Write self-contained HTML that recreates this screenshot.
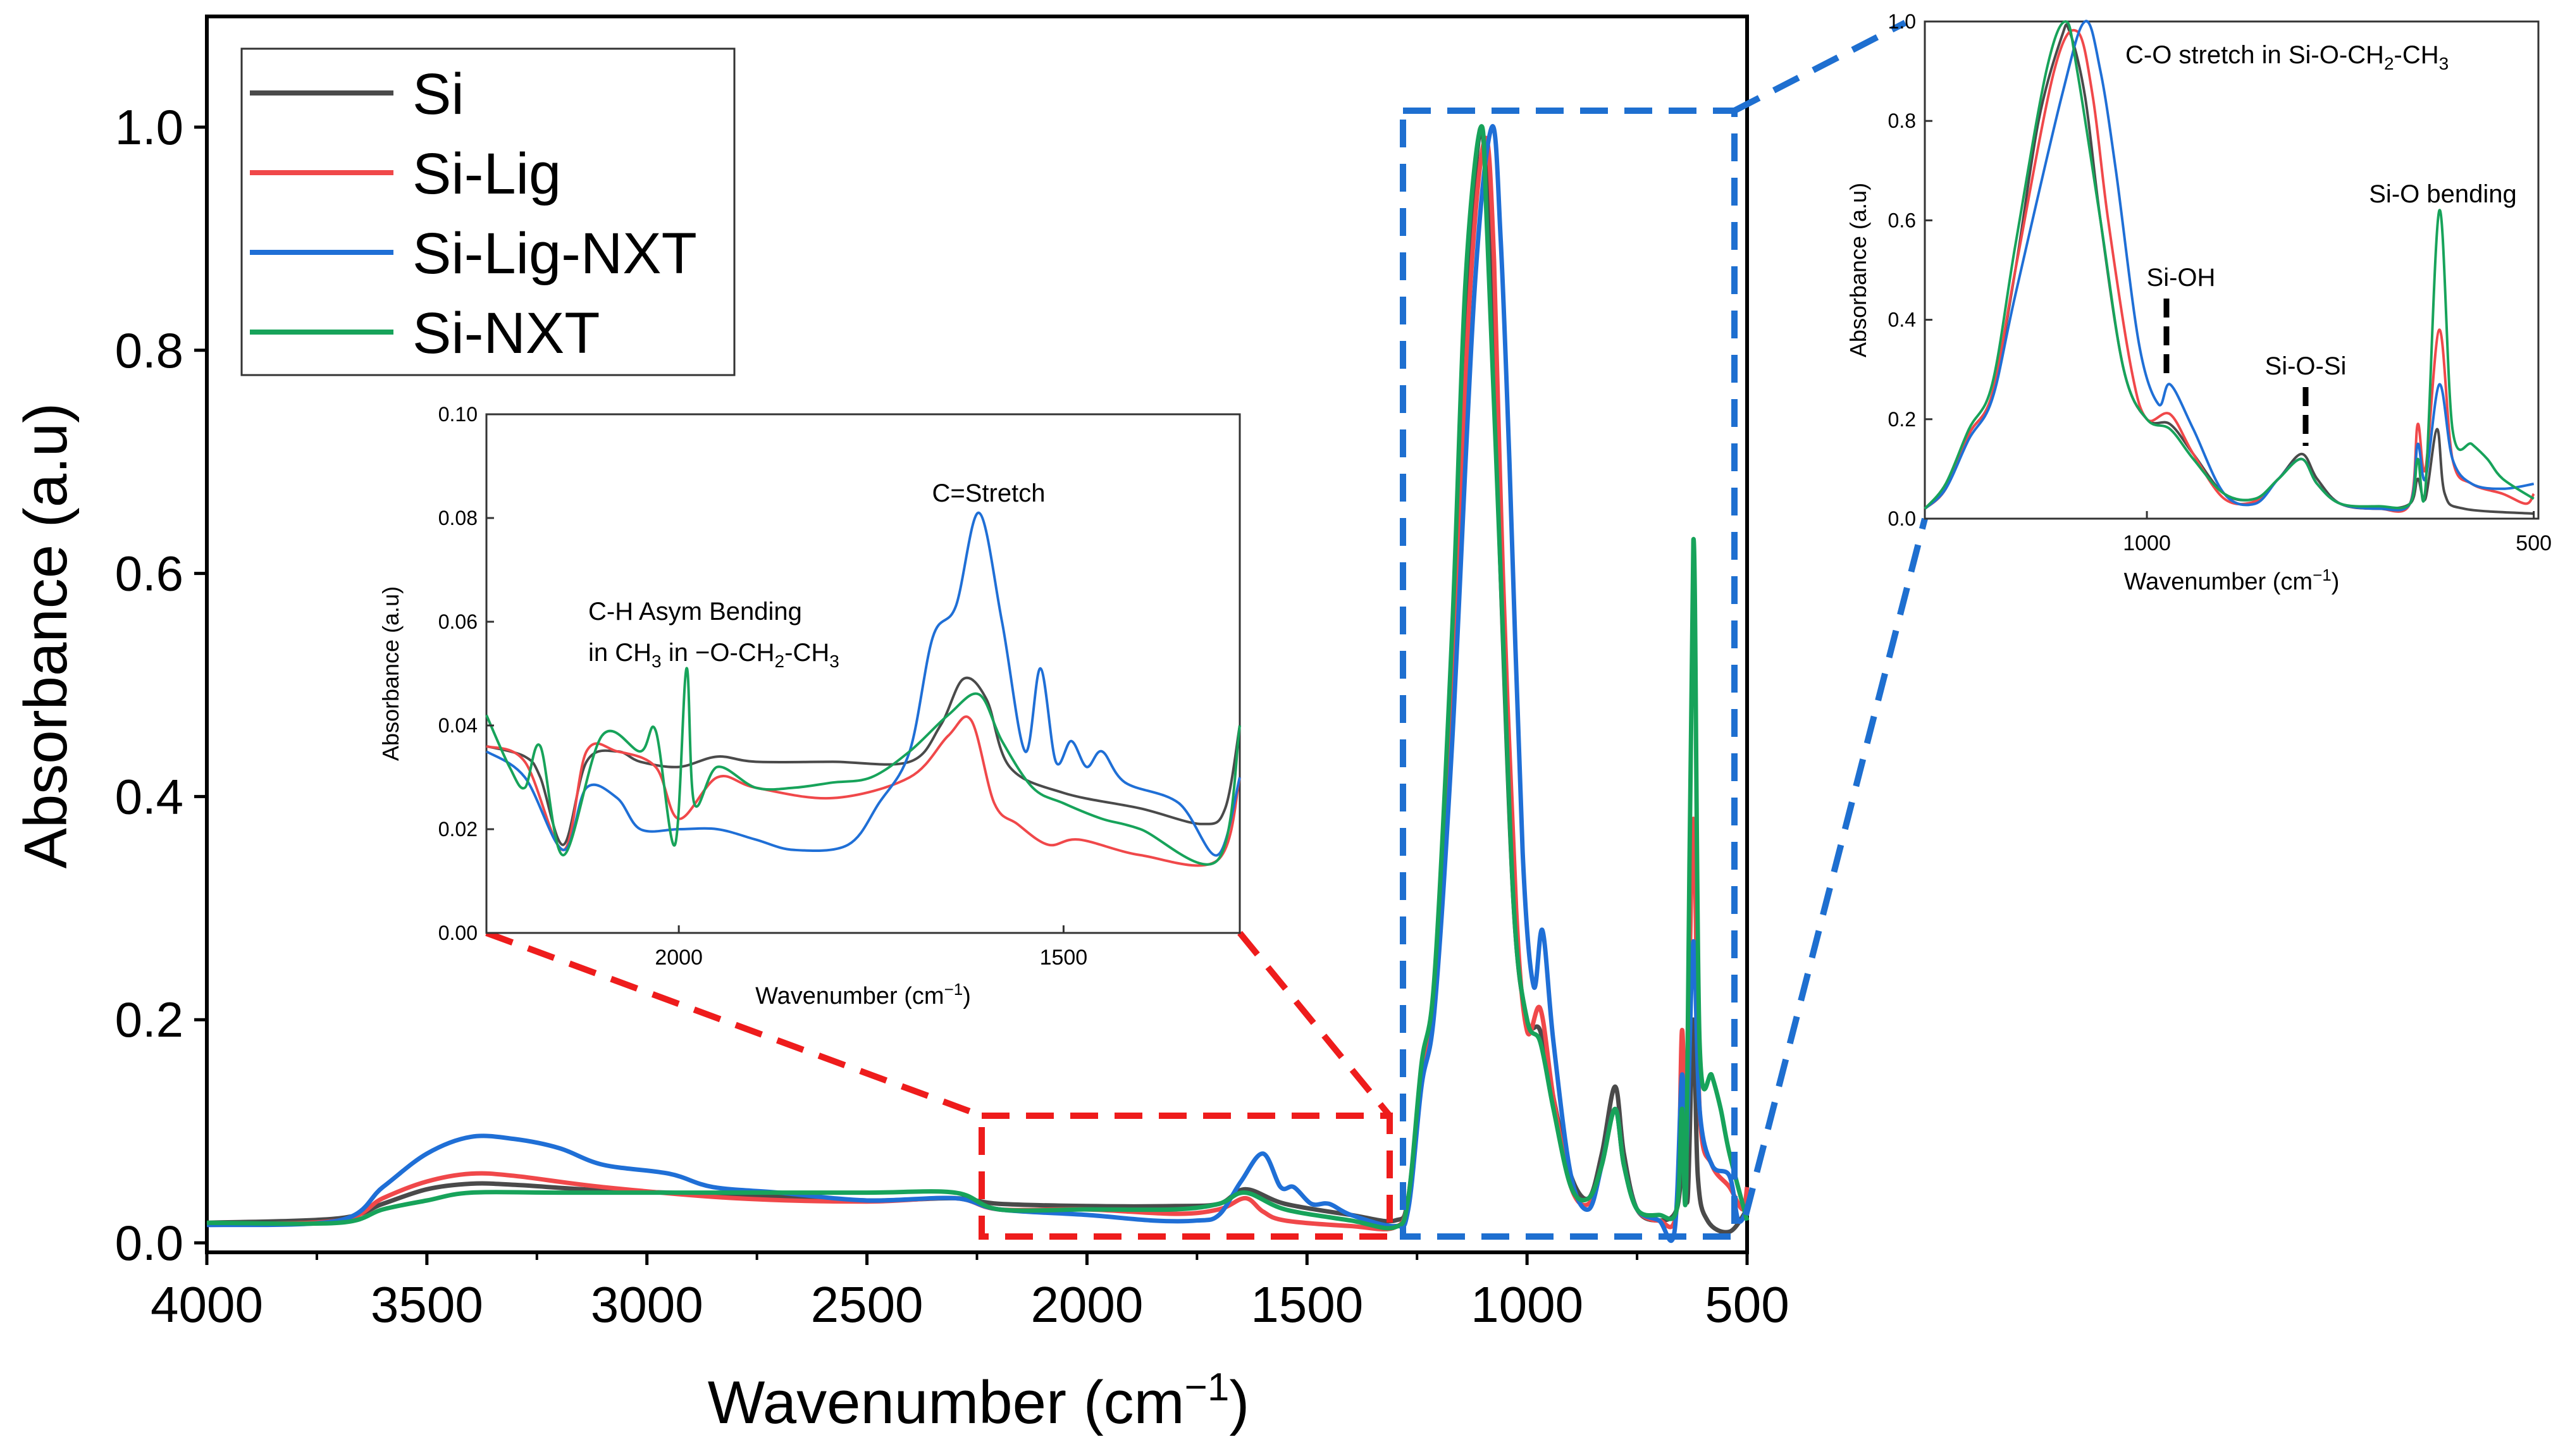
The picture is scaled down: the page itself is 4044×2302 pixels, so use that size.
<!DOCTYPE html>
<html><head><meta charset="utf-8"><style>
html,body{margin:0;padding:0;background:#fff;}
svg{display:block;font-family:"Liberation Sans",sans-serif;}
</style></head><body>
<svg id="chart" width="4044" height="2302" viewBox="0 0 4044 2302" xmlns="http://www.w3.org/2000/svg"></svg>
<script>
// ---------- DATA ----------
const seriesNames = ["Si","Si-Lig","Si-Lig-NXT","Si-NXT"];
const seriesColors = ["#4a4a4a","#f0484a","#1f6fd6","#17a35a"];
const xTicksMain = [4000,3500,3000,2500,2000,1500,1000,500];
const yTicksMain = [0.0,0.2,0.4,0.6,0.8,1.0];
const mainSi = [[4000,0.018],[3700,0.022],[3600,0.035],[3500,0.048],[3400,0.053],[3300,0.052],[3100,0.047],[2800,0.043],[2500,0.038],[2300,0.040],[2200,0.035],[2000,0.033],[1800,0.033],[1700,0.035],[1640,0.048],[1550,0.035],[1400,0.025],[1300,0.02],[1270,0.04],[1240,0.15],[1210,0.22],[1170,0.5],[1140,0.82],[1115,0.97],[1100,0.99],[1080,0.86],[1060,0.6],[1030,0.3],[1000,0.2],[970,0.19],[940,0.13],[900,0.06],[860,0.04],[830,0.08],[800,0.14],[780,0.08],[750,0.03],[700,0.02],[660,0.03],[645,0.08],[635,0.04],[622,0.2],[612,0.06],[590,0.02],[540,0.01],[500,0.03]];
const mainSiLig = [[4000,0.017],[3700,0.02],[3600,0.04],[3500,0.055],[3400,0.062],[3300,0.06],[3100,0.05],[2800,0.04],[2500,0.037],[2300,0.04],[2200,0.03],[2000,0.03],[1800,0.026],[1700,0.03],[1640,0.04],[1600,0.028],[1550,0.02],[1400,0.015],[1300,0.014],[1270,0.04],[1240,0.15],[1210,0.22],[1170,0.5],[1130,0.85],[1095,0.99],[1075,0.88],[1055,0.6],[1025,0.3],[1000,0.19],[970,0.21],[940,0.13],[900,0.05],[860,0.035],[830,0.07],[800,0.12],[780,0.07],[750,0.03],[700,0.02],[660,0.03],[648,0.19],[638,0.1],[622,0.38],[608,0.12],[580,0.07],[540,0.05],[510,0.03],[500,0.05]];
const mainSiLigNxt = [[4000,0.016],[3700,0.02],[3600,0.05],[3500,0.08],[3400,0.095],[3300,0.093],[3200,0.085],[3100,0.07],[2950,0.062],[2850,0.05],[2700,0.045],[2500,0.038],[2300,0.04],[2200,0.03],[2000,0.025],[1850,0.02],[1750,0.02],[1700,0.025],[1650,0.055],[1600,0.08],[1560,0.05],[1530,0.05],[1490,0.035],[1450,0.035],[1400,0.025],[1300,0.015],[1270,0.03],[1240,0.14],[1210,0.21],[1170,0.45],[1120,0.85],[1080,1.0],[1060,0.9],[1040,0.7],[1010,0.35],[985,0.23],[965,0.28],[940,0.18],[900,0.06],[860,0.03],[830,0.07],[800,0.12],[780,0.07],[750,0.03],[700,0.02],[665,0.01],[648,0.15],[638,0.08],[622,0.27],[608,0.12],[580,0.07],[540,0.06],[520,0.02],[500,0.03]];
const mainSiNxt = [[4000,0.018],[3700,0.018],[3600,0.03],[3500,0.038],[3400,0.045],[3200,0.045],[2800,0.045],[2500,0.045],[2300,0.045],[2200,0.03],[2000,0.03],[1800,0.03],[1700,0.035],[1640,0.045],[1550,0.03],[1400,0.02],[1300,0.014],[1270,0.04],[1240,0.16],[1210,0.24],[1170,0.55],[1140,0.86],[1105,1.0],[1090,0.9],[1060,0.6],[1030,0.3],[1000,0.2],[970,0.18],[940,0.12],[900,0.05],[860,0.04],[830,0.07],[800,0.12],[780,0.07],[750,0.03],[700,0.025],[660,0.03],[648,0.12],[638,0.06],[622,0.63],[608,0.18],[580,0.15],[560,0.12],[540,0.08],[500,0.02]];
const mainSeries = [mainSi, mainSiLig, mainSiLigNxt, mainSiNxt];

const inset1XTicks = [2000,1500];
const inset1YTicks = [0.00,0.02,0.04,0.06,0.08,0.10];
const in1Si = [[2250,0.036],[2200,0.034],[2180,0.03],[2150,0.017],[2120,0.033],[2080,0.035],[2050,0.033],[2000,0.032],[1950,0.034],[1900,0.033],[1800,0.033],[1700,0.033],[1660,0.04],[1630,0.049],[1600,0.045],[1570,0.032],[1500,0.027],[1400,0.024],[1320,0.021],[1290,0.024],[1271,0.04]];
const in1SiLig = [[2250,0.036],[2200,0.033],[2150,0.016],[2120,0.035],[2080,0.035],[2030,0.032],[2000,0.022],[1950,0.03],[1900,0.028],[1800,0.026],[1700,0.03],[1650,0.038],[1620,0.041],[1590,0.025],[1560,0.021],[1520,0.017],[1480,0.018],[1400,0.015],[1300,0.014],[1271,0.03]];
const in1SiLigNxt = [[2250,0.035],[2200,0.03],[2150,0.016],[2120,0.028],[2080,0.026],[2050,0.02],[2000,0.02],[1950,0.02],[1900,0.018],[1850,0.016],[1780,0.017],[1740,0.025],[1700,0.035],[1670,0.057],[1640,0.063],[1610,0.081],[1580,0.06],[1550,0.035],[1530,0.051],[1510,0.033],[1490,0.037],[1470,0.032],[1450,0.035],[1420,0.029],[1350,0.025],[1300,0.015],[1271,0.03]];
const in1SiNxt = [[2250,0.042],[2220,0.032],[2200,0.028],[2180,0.036],[2150,0.015],[2100,0.038],[2050,0.035],[2030,0.039],[2005,0.017],[1990,0.051],[1980,0.025],[1950,0.032],[1900,0.028],[1850,0.028],[1800,0.029],[1750,0.03],[1700,0.035],[1650,0.042],[1610,0.046],[1580,0.037],[1540,0.028],[1500,0.025],[1450,0.022],[1400,0.02],[1300,0.014],[1271,0.04]];
const inset1Series = [in1Si, in1SiLig, in1SiLigNxt, in1SiNxt];

const inset2XTicks = [1000,500];
const inset2YTicks = [0.0,0.2,0.4,0.6,0.8,1.0];
const in2Si = [[1287,0.02],[1260,0.06],[1230,0.17],[1200,0.25],[1170,0.5],[1140,0.8],[1110,0.97],[1100,0.98],[1080,0.85],[1060,0.6],[1030,0.3],[1000,0.2],[970,0.19],[940,0.13],[900,0.05],[860,0.04],[830,0.08],[800,0.13],[780,0.08],[750,0.03],[700,0.02],[660,0.03],[650,0.08],[640,0.04],[625,0.18],[615,0.05],[590,0.02],[500,0.01]];
const in2SiLig = [[1287,0.02],[1260,0.06],[1230,0.17],[1200,0.25],[1170,0.5],[1120,0.9],[1090,0.98],[1070,0.85],[1050,0.6],[1020,0.3],[1000,0.2],[970,0.21],[940,0.13],[900,0.04],[860,0.035],[830,0.08],[800,0.12],[780,0.07],[750,0.03],[700,0.02],[660,0.03],[650,0.19],[640,0.1],[622,0.38],[605,0.12],[580,0.07],[540,0.05],[510,0.03],[500,0.05]];
const in2SiLigNxt = [[1287,0.02],[1260,0.06],[1230,0.16],[1200,0.24],[1170,0.45],[1110,0.85],[1080,1.0],[1060,0.9],[1040,0.7],[1010,0.35],[985,0.23],[970,0.27],[940,0.18],[900,0.05],[860,0.03],[830,0.08],[800,0.12],[780,0.07],[750,0.03],[700,0.02],[660,0.03],[650,0.15],[640,0.08],[622,0.27],[605,0.12],[580,0.07],[540,0.06],[500,0.07]];
const in2SiNxt = [[1287,0.02],[1260,0.07],[1230,0.18],[1200,0.27],[1170,0.55],[1130,0.9],[1105,1.0],[1090,0.9],[1060,0.6],[1030,0.3],[1000,0.2],[970,0.18],[940,0.12],[900,0.05],[860,0.04],[830,0.08],[800,0.12],[780,0.07],[750,0.03],[700,0.025],[660,0.03],[650,0.12],[640,0.06],[622,0.62],[605,0.18],[580,0.15],[560,0.12],[540,0.08],[500,0.04]];
const inset2Series = [in2Si, in2SiLig, in2SiLigNxt, in2SiNxt];

// ---------- RENDER ----------
const NS = "http://www.w3.org/2000/svg";
const svg = document.getElementById("chart");
function mk(tag, attrs, parent) {
  const e = document.createElementNS(NS, tag);
  for (const k in attrs) e.setAttribute(k, attrs[k]);
  (parent || svg).appendChild(e);
  return e;
}
function lin(d0, d1, r0, r1) { return v => r0 + (v - d0) * (r1 - r0) / (d1 - d0); }

// Main chart
const mx = lin(4000, 500, 327, 2762);
const my = lin(0, 1, 1965, 201);
const frame = mk("rect", {x:327, y:26, width:2435, height:1954, fill:"none", stroke:"#000", "stroke-width":6});


xTicksMain.forEach(v => {
  const t = mk("line", {x1:mx(v), x2:mx(v), y1:1980, y2:2000, stroke:"#000", "stroke-width":5});
  
  
  const l = mk("text", {x:mx(v), y:2090, "font-size":80, "text-anchor":"middle"});
  l.textContent = v;
  
  
});
for (let v = 3750; v > 500; v -= 500) {
  const t = mk("line", {x1:mx(v), x2:mx(v), y1:1980, y2:1992, stroke:"#000", "stroke-width":4});
  
  
}
yTicksMain.forEach(v => {
  const t = mk("line", {x1:307, x2:327, y1:my(v), y2:my(v), stroke:"#000", "stroke-width":5});
  
  
  const l = mk("text", {x:290, y:my(v)+27, "font-size":78, "text-anchor":"end"});
  l.textContent = v.toFixed(1);
  
  
});
const xt = mk("text", {x:1547, y:2250, "font-size":96, "text-anchor":"middle"});
xt.innerHTML = 'Wavenumber (cm<tspan dy="-36" font-size="62">−1</tspan><tspan dy="36">)</tspan>';


const yt = mk("text", {x:0, y:0, "font-size":96, "text-anchor":"middle", transform:"translate(105,1005) rotate(-90)"});
yt.textContent = "Absorbance (a.u)";



function pathOf(pts, fx, fy) {
  const P = pts.map(p => [fx(p[0]), fy(p[1])]);
  let d = "M" + P[0][0].toFixed(1) + "," + P[0][1].toFixed(1);
  for (let i = 0; i < P.length - 1; i++) {
    const p0 = P[i-1] || P[i], p1 = P[i], p2 = P[i+1], p3 = P[i+2] || P[i+1];
    const c1x = p1[0] + (p2[0]-p0[0])/6, c1y = p1[1] + (p2[1]-p0[1])/6;
    const c2x = p2[0] - (p3[0]-p1[0])/6, c2y = p2[1] - (p3[1]-p1[1])/6;
    d += " C" + c1x.toFixed(1) + "," + c1y.toFixed(1) + " " + c2x.toFixed(1) + "," + c2y.toFixed(1) + " " + p2[0].toFixed(1) + "," + p2[1].toFixed(1);
  }
  return d;
}
const mainG = mk("g", {});


mainSeries.forEach((s, i) => {
  const p = mk("path", {d:pathOf(s, mx, my), fill:"none", stroke:seriesColors[i], "stroke-width":7, "stroke-linejoin":"round"}, mainG);
  
  
});

// Legend
const lg = mk("g", {});


mk("rect", {x:382, y:77, width:779, height:516, fill:"#fff", stroke:"#333", "stroke-width":3}, lg);
seriesNames.forEach((n, i) => {
  const y = 147 + i * 126;
  const e = mk("g", {}, lg);
  
  
  mk("line", {x1:395, x2:622, y1:y, y2:y, stroke:seriesColors[i], "stroke-width":8}, e);
  const t = mk("text", {x:652, y:y+33, "font-size":92}, e);
  t.textContent = n;
});

// Zoom boxes & connectors
function dashLine(x1,y1,x2,y2,c,name){
  const l = mk("line",{x1,y1,x2,y2,stroke:c,"stroke-width":10,"stroke-dasharray":"44,26"});
  
  
}
const rb = mk("rect",{x:1552,y:1764,width:645,height:191,fill:"none",stroke:"#ee1c1c","stroke-width":10,"stroke-dasharray":"44,26"});


dashLine(769,1475,1552,1764,"#ee1c1c","red-connector-left");
dashLine(1960,1475,2197,1764,"#ee1c1c","red-connector-right");
const bb = mk("rect",{x:2218,y:175,width:524,height:1780,fill:"none",stroke:"#1e6fd0","stroke-width":10,"stroke-dasharray":"44,26"});


dashLine(2742,175,3012,36,"#1e6fd0","blue-connector-top");
dashLine(2760,1921,3043,820,"#1e6fd0","blue-connector-bottom");

// Inset builder
function inset(cfg){
  const g = mk("g", {});
  
  
  const fx = lin(cfg.xd[0], cfg.xd[1], cfg.x0, cfg.x1);
  const fy = lin(cfg.yd[0], cfg.yd[1], cfg.y1, cfg.y0);
  mk("rect",{x:cfg.x0,y:cfg.y0,width:cfg.x1-cfg.x0,height:cfg.y1-cfg.y0,fill:"#fff",stroke:"#333","stroke-width":3},g);
  cfg.series.forEach((s,i)=>{
    const p = mk("path",{d:pathOf(s,fx,fy),fill:"none",stroke:seriesColors[i],"stroke-width":4,"stroke-linejoin":"round"},g);
    
    
  });
  cfg.xt.forEach(v=>{
    mk("line",{x1:fx(v),x2:fx(v),y1:cfg.y1,y2:cfg.y1-12,stroke:"#333","stroke-width":3},g);
    const t = mk("text",{x:fx(v),y:cfg.y1+50,"font-size":34,"text-anchor":"middle"},g);
    t.textContent = v;
    
    
  });
  cfg.yt.forEach(v=>{
    mk("line",{x1:cfg.x0,x2:cfg.x0+12,y1:fy(v),y2:fy(v),stroke:"#333","stroke-width":3},g);
    const t = mk("text",{x:cfg.x0-14,y:fy(v)+11,"font-size":32,"text-anchor":"end"},g);
    t.textContent = v.toFixed(cfg.dec);
    
    
  });
  const xl = mk("text",{x:(cfg.x0+cfg.x1)/2,y:cfg.y1+112,"font-size":38,"text-anchor":"middle"},g);
  xl.innerHTML = 'Wavenumber (cm<tspan dy="-14" font-size="26">−1</tspan><tspan dy="14">)</tspan>';
  
  
  const yl = mk("text",{x:0,y:0,"font-size":36,"text-anchor":"middle",transform:`translate(${cfg.ylx},${(cfg.y0+cfg.y1)/2}) rotate(-90)`},g);
  yl.textContent = "Absorbance (a.u)";
  
  
  return {g, fx, fy};
}
const i1 = inset({name:"inset-ch-region",x0:769,x1:1960,y0:655,y1:1475,xd:[2250,1271],yd:[0,0.1],series:inset1Series,xt:inset1XTicks,yt:inset1YTicks,dec:2,ylx:630});
const i2 = inset({name:"inset-si-region",x0:3043,x1:4013,y0:34,y1:820,xd:[1287,494],yd:[0,1],series:inset2Series,xt:inset2XTicks,yt:inset2YTicks,dec:1,ylx:2950});

function ann(x,y,html,size,name,anchor){
  const t = mk("text",{x,y,"font-size":size,"text-anchor":anchor||"start"});
  t.innerHTML = html;
  
  
}
ann(1563,793,"C=Stretch",40,"annotation-c-stretch","middle");
ann(930,980,"C-H Asym Bending",40,"annotation-ch-bending");
ann(930,1045,'in CH<tspan dy="10" font-size="28">3</tspan><tspan dy="-10"> in −O-CH</tspan><tspan dy="10" font-size="28">2</tspan><tspan dy="-10">-CH</tspan><tspan dy="10" font-size="28">3</tspan>',40,"annotation-ch-group");
ann(3360,100,'C-O stretch in Si-O-CH<tspan dy="10" font-size="28">2</tspan><tspan dy="-10">-CH</tspan><tspan dy="10" font-size="28">3</tspan>',40,"annotation-co-stretch");
ann(3862,320,"Si-O bending",40,"annotation-si-o-bending","middle");
ann(3448,452,"Si-OH",40,"annotation-si-oh","middle");
ann(3645,592,"Si-O-Si",40,"annotation-si-o-si","middle");
const m1 = mk("line",{x1:3425,x2:3425,y1:472,y2:595,stroke:"#000","stroke-width":9,"stroke-dasharray":"30,14"});


const m2 = mk("line",{x1:3645,x2:3645,y1:612,y2:705,stroke:"#000","stroke-width":9,"stroke-dasharray":"30,14"});


</script>
</body></html>
